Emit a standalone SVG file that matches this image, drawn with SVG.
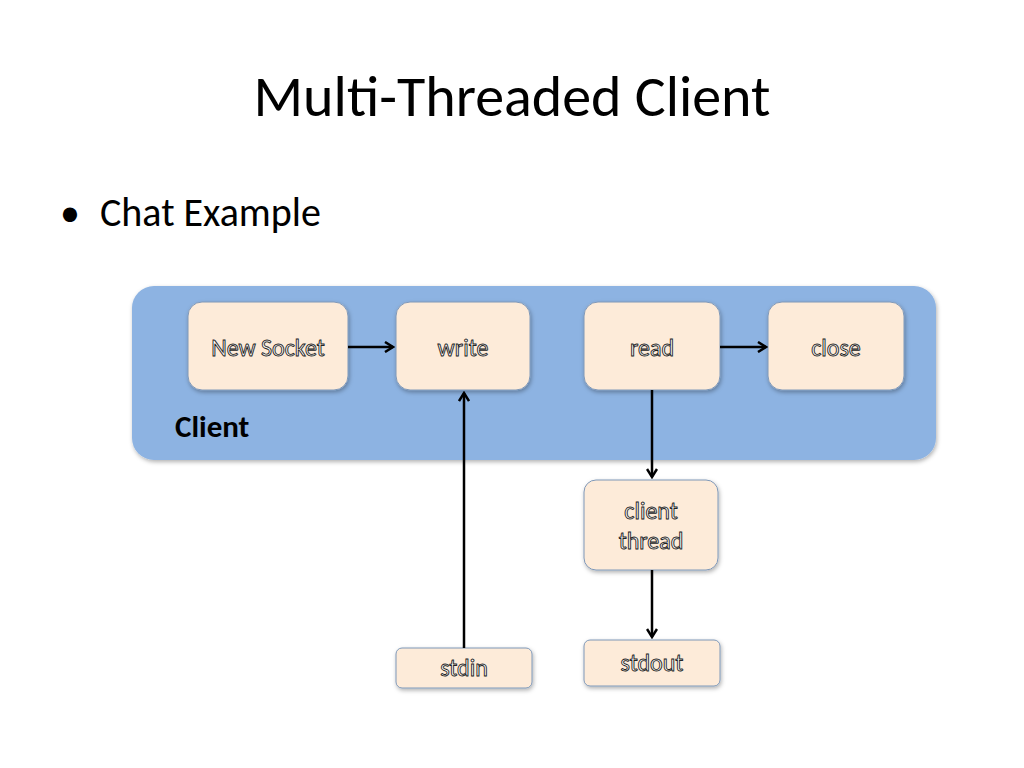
<svg xmlns="http://www.w3.org/2000/svg" width="1024" height="768" viewBox="0 0 1024 768">
<defs>
<marker id="a" markerWidth="12" markerHeight="12" refX="10" refY="6" orient="auto" markerUnits="userSpaceOnUse"><path d="M2,1 L10,6 L2,11" fill="none" stroke="#000" stroke-width="2.5"/></marker>
<filter id="s" x="-10%" y="-10%" width="130%" height="130%"><feDropShadow dx="1" dy="2" stdDeviation="2" flood-opacity="0.3"/></filter>
</defs>
<style>
.n{fill:#fdebd9;stroke:#7f98b8;stroke-width:1;filter:url(#s)}
.t{font-family:Carlito,"Liberation Sans",sans-serif;font-size:24px;fill:#fff;stroke:#222;stroke-width:0.9;text-anchor:middle}
.c{stroke:#000;stroke-width:2.5;fill:none;marker-end:url(#a)}
</style>
<rect width="1024" height="768" fill="#fff"/>
<text x="512" y="116" font-family="Carlito,'Liberation Sans',sans-serif" font-size="58" text-anchor="middle" fill="#000">Multi-Threaded Client</text>
<text x="60" y="226" font-family="Carlito,'Liberation Sans',sans-serif" font-size="40" fill="#000">•</text>
<text x="100" y="226" font-family="Carlito,'Liberation Sans',sans-serif" font-size="40" fill="#000">Chat Example</text>
<g id="client"><rect x="132" y="286" width="804" height="174" rx="22" fill="#8db3e2" filter="url(#s)"/>
<text x="175" y="437" font-family="Carlito,'Liberation Sans',sans-serif" font-size="31" font-weight="bold" fill="#000">Client</text></g>
<g id="newsocket"><rect class="n" x="188" y="302" width="160" height="88" rx="14"/><text class="t" x="268" y="356">New Socket</text></g>
<g id="write"><rect class="n" x="396" y="302" width="134" height="88" rx="14"/><text class="t" x="463" y="356">write</text></g>
<g id="read"><rect class="n" x="584" y="302" width="136" height="88" rx="14"/><text class="t" x="652" y="356">read</text></g>
<g id="close"><rect class="n" x="768" y="302" width="136" height="88" rx="14"/><text class="t" x="836" y="356">close</text></g>
<g id="clientthread"><rect class="n" x="584" y="480" width="134" height="90" rx="12"/><text class="t" x="651" y="519">client</text><text class="t" x="651" y="549">thread</text></g>
<g id="stdout"><rect class="n" x="584" y="640" width="136" height="46" rx="6"/><text class="t" x="652" y="671">stdout</text></g>
<g id="stdin"><rect class="n" x="396" y="648" width="136" height="40" rx="6"/><text class="t" x="464" y="676">stdin</text></g>
<g id="connectors">
<line class="c" x1="348" y1="347" x2="393" y2="347"/>
<line class="c" x1="720" y1="347" x2="766" y2="347"/>
<line class="c" x1="464" y1="648" x2="464" y2="393"/>
<line class="c" x1="652" y1="390" x2="652" y2="477"/>
<line class="c" x1="652" y1="570" x2="652" y2="637"/>
</g>
</svg>
